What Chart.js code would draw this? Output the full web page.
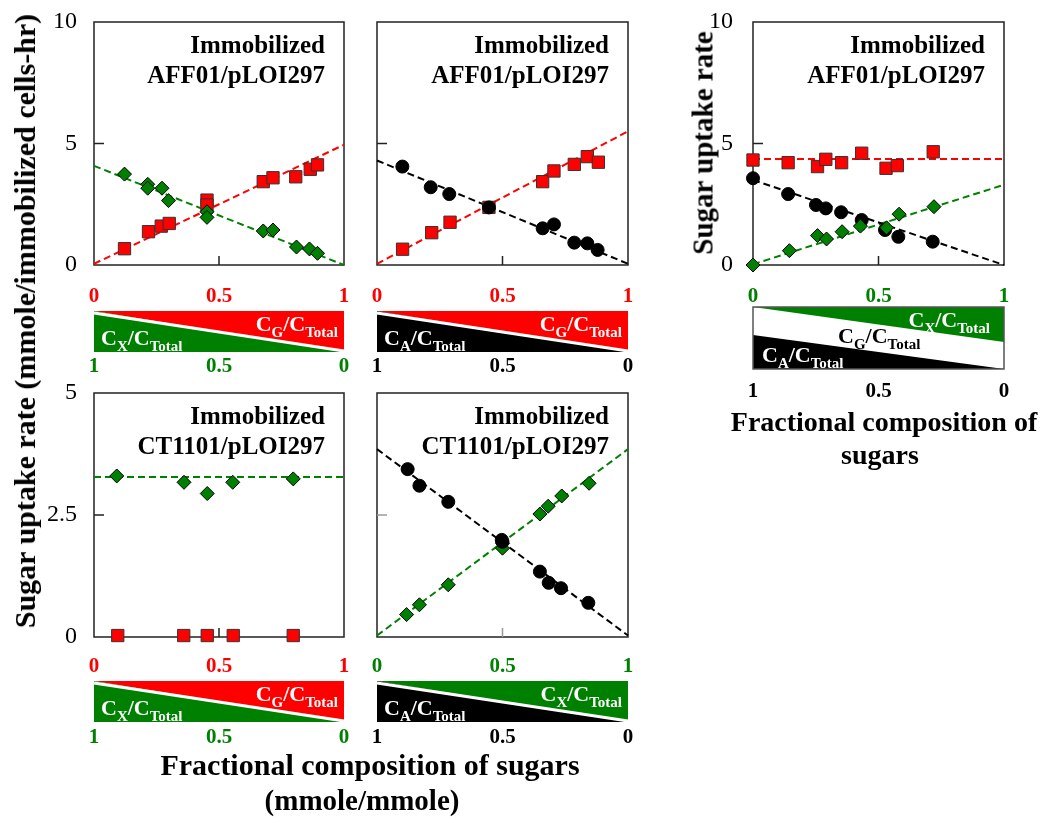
<!DOCTYPE html>
<html><head><meta charset="utf-8">
<script src="https://cdn.jsdelivr.net/npm/chart.js@4.4.1/dist/chart.umd.min.js"></script>
<style>
body{margin:0;background:#fff;width:1050px;height:823px;overflow:hidden;position:relative}
canvas.c{position:absolute;left:0;top:0}
.t{position:absolute;font-family:"Liberation Serif",serif;font-weight:bold;color:#000;white-space:nowrap;line-height:1}
</style></head><body>
<canvas id="pA" class="c" width="1050" height="823"></canvas>
<canvas id="pB" class="c" width="1050" height="823"></canvas>
<canvas id="pC" class="c" width="1050" height="823"></canvas>
<canvas id="pD" class="c" width="1050" height="823"></canvas>
<canvas id="pE" class="c" width="1050" height="823"></canvas>
<div class="t" style="left:25px;top:321px;font-size:30px;transform:translate(-50%,-50%) rotate(-90deg)">Sugar uptake rate (mmole/immobilized cells-hr)</div>
<div class="t" style="left:703px;top:143px;font-size:29px;transform:translate(-50%,-50%) rotate(-90deg)">Sugar uptake rate</div>
<div class="t" style="left:370px;top:765px;font-size:30px;transform:translate(-50%,-50%)">Fractional composition of sugars</div>
<div class="t" style="left:362px;top:800px;font-size:29px;transform:translate(-50%,-50%)">(mmole/mmole)</div>
<div class="t" style="left:884px;top:422px;font-size:28px;transform:translate(-50%,-50%)">Fractional composition of</div>
<div class="t" style="left:880px;top:455px;font-size:28px;transform:translate(-50%,-50%)">sugars</div>
<script>
// ---------- tick values / labels ----------
const fracTicks = [0, 0.5, 1];
const fracLabelsUp = ['0', '0.5', '1'];
const fracLabelsDown = ['1', '0.5', '0'];
const rateTicksTop = [10, 5, 0];
const rateTickLabelsTop = ['10', '5', '0'];
const rateTicksBottom = [5, 2.5, 0];
const rateTickLabelsBottom = ['5', '2.5', '0'];
const fitX = [0, 1];

// ---------- Panel A: AFF01, glucose + xylose (x = CG/CTotal) ----------
const aGlcX = [0.122, 0.218, 0.269, 0.301, 0.452, 0.452, 0.677, 0.716, 0.807, 0.865, 0.894];
const aGlc  = [0.67, 1.37, 1.60, 1.71, 2.67, 2.47, 3.43, 3.59, 3.63, 3.94, 4.12];
const aXylX = [0.122, 0.215, 0.215, 0.272, 0.298, 0.452, 0.452, 0.677, 0.716, 0.810, 0.862, 0.894];
const aXyl  = [3.74, 3.32, 3.16, 3.16, 2.65, 2.19, 1.96, 1.40, 1.44, 0.74, 0.66, 0.48];
const aGlcFit = [0.05, 4.95];
const aXylFit = [4.08, 0.0];

// ---------- Panel B: AFF01, glucose + arabinose (x = CG/CTotal) ----------
const bGlcX = [0.102, 0.218, 0.291, 0.446, 0.660, 0.705, 0.786, 0.838, 0.882];
const bGlc  = [0.65, 1.33, 1.76, 2.37, 3.43, 3.87, 4.14, 4.46, 4.23];
const bAraX = [0.101, 0.214, 0.288, 0.446, 0.660, 0.705, 0.786, 0.838, 0.879];
const bAra  = [4.05, 3.20, 2.92, 2.37, 1.51, 1.67, 0.92, 0.89, 0.62];
const bGlcFit = [0.05, 5.5];
const bAraFit = [4.3, 0.05];

// ---------- Panel C: AFF01, three sugars (x = CX/CTotal) ----------
const cGlcX = [0.0, 0.140, 0.257, 0.290, 0.353, 0.433, 0.530, 0.575, 0.718];
const cGlc  = [4.32, 4.21, 4.05, 4.35, 4.21, 4.60, 3.98, 4.09, 4.66];
const cAraX = [0.0, 0.140, 0.251, 0.290, 0.351, 0.433, 0.526, 0.579, 0.716];
const cAra  = [3.57, 2.92, 2.47, 2.33, 2.17, 1.85, 1.44, 1.16, 0.96];
const cXylX = [0.0, 0.145, 0.257, 0.293, 0.355, 0.428, 0.532, 0.582, 0.721];
const cXyl  = [0.0, 0.59, 1.21, 1.07, 1.37, 1.60, 1.53, 2.09, 2.40];
const cGlcFit = [4.36, 4.36];
const cAraFit = [3.5, 0.0];
const cXylFit = [0.03, 3.3];

// ---------- Panel D: CT1101, glucose + xylose (x = CG/CTotal) ----------
const dXylX = [0.091, 0.360, 0.453, 0.555, 0.797];
const dXyl  = [3.30, 3.17, 2.94, 3.17, 3.24];
const dGlcX = [0.095, 0.359, 0.453, 0.557, 0.797];
const dGlc  = [0.03, 0.03, 0.03, 0.03, 0.03];
const dXylFit = [3.28, 3.28];

// ---------- Panel E: CT1101, xylose + arabinose (x = CX/CTotal) ----------
const eAraX = [0.122, 0.169, 0.284, 0.497, 0.500, 0.649, 0.684, 0.733, 0.842];
const eAra  = [3.44, 3.10, 2.77, 1.99, 1.95, 1.34, 1.11, 1.00, 0.70];
const eXylX = [0.118, 0.169, 0.284, 0.500, 0.500, 0.649, 0.682, 0.736, 0.845];
const eXyl  = [0.46, 0.66, 1.07, 1.92, 1.82, 2.52, 2.68, 2.89, 3.15];
const eAraFit = [3.85, 0.03];
const eXylFit = [0.03, 3.85];

// ---------- styling ----------
const RED = '#ff0000', GREEN = '#008000', BLACK = '#000000';
const SERIF = '"Liberation Serif", serif';

const pts = (xs, ys) => xs.map((x, i) => ({x, y: ys[i]}));
function squares(xs, ys){ return {data: pts(xs, ys), pointStyle:'rect', pointRadius:8.7, backgroundColor:RED, borderColor:'#333', borderWidth:1, showLine:false, order:2, clip:false}; }
function diamonds(xs, ys){ return {data: pts(xs, ys), pointStyle:'rectRot', pointRadius:7, backgroundColor:GREEN, borderColor:'#000', borderWidth:1, showLine:false, order:1, clip:false}; }
function circles(xs, ys){ return {data: pts(xs, ys), pointStyle:'circle', pointRadius:6.5, backgroundColor:BLACK, borderColor:BLACK, borderWidth:1, showLine:false, order:1, clip:false}; }
function fit(ys, color){ return {data: pts(fitX, ys), showLine:true, pointRadius:0, borderColor:color, borderWidth:2, borderDash:[7,4], order:5, clip:false, fill:false}; }

function frac(ctx, sub, x, y, align, color, big, small){
  ctx.save();
  ctx.fillStyle = color; ctx.textBaseline = 'alphabetic'; ctx.textAlign = 'left';
  const fb = 'bold ' + big + 'px ' + SERIF, fs = 'bold ' + small + 'px ' + SERIF;
  const parts = [['C', fb, 0], [sub, fs, 6], ['/C', fb, 0], ['Total', fs, 6]];
  let w = 0; for (const p of parts){ ctx.font = p[1]; w += ctx.measureText(p[0]).width; }
  let cx = align === 'right' ? x - w : x;
  for (const p of parts){ ctx.font = p[1]; ctx.fillText(p[0], cx, y + p[2]); cx += ctx.measureText(p[0]).width; }
  ctx.restore();
}

function decoPlugin(cfg){
  return {
    id: 'deco',
    beforeDatasetsDraw(chart){
      const ctx = chart.ctx, a = chart.chartArea, xs = chart.scales.x, ys = chart.scales.y;
      ctx.save();
      // annotation text
      ctx.fillStyle = '#000'; ctx.font = 'bold 25px ' + SERIF; ctx.textAlign = 'right'; ctx.textBaseline = 'alphabetic';
      ctx.fillText('Immobilized', a.right - 19, a.top + 31);
      ctx.fillText(cfg.strain, a.right - 19, a.top + 61);
      // frame
      ctx.strokeStyle = '#222'; ctx.lineWidth = 1.5;
      ctx.strokeRect(a.left, a.top, a.right - a.left, a.bottom - a.top);
      // inward tick marks
      ctx.strokeStyle = cfg.tickColor || '#222'; ctx.lineWidth = 1.5;
      ctx.beginPath();
      const ym = ys.getPixelForValue(cfg.yMid);
      ctx.moveTo(a.left, ym); ctx.lineTo(a.left + 10, ym);
      const xm = xs.getPixelForValue(0.5);
      ctx.moveTo(xm, a.bottom); ctx.lineTo(xm, a.bottom - 9);
      ctx.stroke();
      // y tick labels
      if (cfg.yTicks){
        ctx.fillStyle = '#000'; ctx.font = '24px ' + SERIF; ctx.textAlign = 'right'; ctx.textBaseline = 'middle';
        cfg.yTicks.forEach((v, i) => ctx.fillText(cfg.yLabels[i], a.left - cfg.yLabelGap, ys.getPixelForValue(v)));
      }
      // composition bar
      const L = xs.getPixelForValue(0), R = xs.getPixelForValue(1), T = cfg.barTop, B = cfg.barBot;
      if (cfg.bar === 'two'){
        ctx.fillStyle = cfg.topCol; ctx.beginPath(); ctx.moveTo(L, T); ctx.lineTo(R, T); ctx.lineTo(R, B); ctx.closePath(); ctx.fill();
        ctx.fillStyle = cfg.botCol; ctx.beginPath(); ctx.moveTo(L, T); ctx.lineTo(L, B); ctx.lineTo(R, B); ctx.closePath(); ctx.fill();
        ctx.strokeStyle = '#fff'; ctx.lineWidth = 3; ctx.beginPath(); ctx.moveTo(L, T + 2); ctx.lineTo(R, B - 1); ctx.stroke();
        frac(ctx, cfg.topSub, R - 6, T + 20, 'right', '#fff', 22, 15);
        frac(ctx, cfg.botSub, L + 7, T + 34, 'left', '#fff', 22, 15);
      } else {
        ctx.fillStyle = '#fff'; ctx.fillRect(L, T, R - L, B - T);
        ctx.fillStyle = GREEN; ctx.beginPath(); ctx.moveTo(L, T); ctx.lineTo(R, T); ctx.lineTo(R, T + 35); ctx.closePath(); ctx.fill();
        ctx.fillStyle = BLACK; ctx.beginPath(); ctx.moveTo(L, T + 28); ctx.lineTo(L, B); ctx.lineTo(R, B); ctx.closePath(); ctx.fill();
        ctx.strokeStyle = '#555'; ctx.lineWidth = 1.5; ctx.strokeRect(L, T, R - L, B - T);
        frac(ctx, 'X', R - 14, T + 20, 'right', '#fff', 22, 15);
        frac(ctx, 'G', L + 85, T + 36, 'left', '#000', 22, 15);
        frac(ctx, 'A', L + 9, T + 55, 'left', '#fff', 22, 15);
      }
      // x labels above / below bar
      ctx.font = 'bold 21px ' + SERIF; ctx.textAlign = 'center'; ctx.textBaseline = 'middle';
      fracTicks.forEach((v, i) => {
        const px = xs.getPixelForValue(v);
        ctx.fillStyle = cfg.upCol; ctx.fillText(fracLabelsUp[i], px, cfg.upY);
        ctx.fillStyle = cfg.downCol; ctx.fillText(fracLabelsDown[i], px, cfg.downY);
      });
      ctx.restore();
    }
  };
}

function makeChart(id, area, yMax, datasets, cfg){
  return new Chart(document.getElementById(id), {
    type: 'scatter',
    data: {datasets},
    options: {
      responsive: false, animation: false, devicePixelRatio: 1,
      layout: {padding: {left: area[0], top: area[2], right: 1050 - area[1], bottom: 823 - area[3]}},
      plugins: {legend: {display: false}, tooltip: {enabled: false}},
      scales: {
        x: {type: 'linear', min: 0, max: 1, display: false},
        y: {type: 'linear', min: 0, max: yMax, display: false}
      }
    },
    plugins: [decoPlugin(cfg)]
  });
}

makeChart('pA', [94, 344, 22, 265], 10,
  [diamonds(aXylX, aXyl), squares(aGlcX, aGlc), fit(aGlcFit, RED), fit(aXylFit, GREEN)],
  {strain: 'AFF01/pLOI297', yMid: 5, yTicks: rateTicksTop, yLabels: rateTickLabelsTop, yLabelGap: 17,
   bar: 'two', topCol: RED, botCol: GREEN, topSub: 'G', botSub: 'X', barTop: 311, barBot: 352,
   upCol: RED, downCol: GREEN, upY: 297, downY: 367});

makeChart('pB', [377, 628, 22, 265], 10,
  [circles(bAraX, bAra), squares(bGlcX, bGlc), fit(bGlcFit, RED), fit(bAraFit, BLACK)],
  {strain: 'AFF01/pLOI297', yMid: 5,
   bar: 'two', topCol: RED, botCol: BLACK, topSub: 'G', botSub: 'A', barTop: 311, barBot: 352,
   upCol: RED, downCol: BLACK, upY: 297, downY: 367});

makeChart('pC', [753, 1004, 22, 265], 10,
  [diamonds(cXylX, cXyl), circles(cAraX, cAra), squares(cGlcX, cGlc), fit(cGlcFit, RED), fit(cAraFit, BLACK), fit(cXylFit, GREEN)],
  {strain: 'AFF01/pLOI297', yMid: 5, yTicks: rateTicksTop, yLabels: rateTickLabelsTop, yLabelGap: 20,
   bar: 'three', barTop: 307, barBot: 369,
   upCol: GREEN, downCol: BLACK, upY: 297, downY: 392});

makeChart('pD', [94, 344, 393, 637], 5,
  [diamonds(dXylX, dXyl), squares(dGlcX, dGlc), fit(dXylFit, GREEN)],
  {strain: 'CT1101/pLOI297', yMid: 2.5, yTicks: rateTicksBottom, yLabels: rateTickLabelsBottom, yLabelGap: 17,
   bar: 'two', topCol: RED, botCol: GREEN, topSub: 'G', botSub: 'X', barTop: 681, barBot: 722,
   upCol: RED, downCol: GREEN, upY: 667, downY: 738});

makeChart('pE', [377, 628, 393, 637], 5,
  [circles(eAraX, eAra), diamonds(eXylX, eXyl), fit(eAraFit, BLACK), fit(eXylFit, GREEN)],
  {strain: 'CT1101/pLOI297', yMid: 2.5, tickColor: '#999',
   bar: 'two', topCol: GREEN, botCol: BLACK, topSub: 'X', botSub: 'A', barTop: 681, barBot: 722,
   upCol: GREEN, downCol: BLACK, upY: 667, downY: 738});
</script>
</body></html>
